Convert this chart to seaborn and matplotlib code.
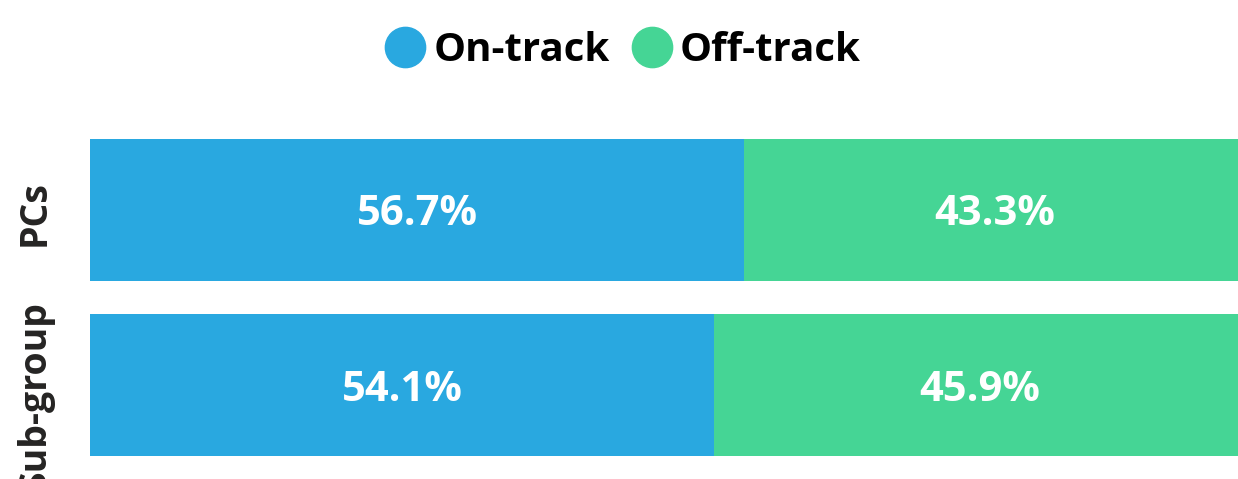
import matplotlib
matplotlib.use("Agg")
import matplotlib.pyplot as plt
import matplotlib.transforms as mtransforms
import seaborn as sns
import pandas as pd
from matplotlib.lines import Line2D

categories = ["PCs", "Sub-group"]
on_track = [56.7, 54.1]
off_track = [43.3, 45.9]
series_names = ["On-track", "Off-track"]
colors = ["#29A8E0", "#45D595"]

sns.set_style("white")
plt.rcParams["font.family"] = ["Open Sans", "DejaVu Sans"]

df = pd.DataFrame({"category": categories, "on": on_track, "off": off_track})
df["total"] = df["on"] + df["off"]

fig = plt.figure(figsize=(12.38, 4.79), dpi=100)
ax = fig.add_axes([90 / 1238, 0.0125, 1 - 90 / 1238 + 0.005, 0.7325])

sns.barplot(data=df, y="category", x="total", color=colors[1], orient="h",
            width=0.81, ax=ax, saturation=1, linewidth=0)
sns.barplot(data=df, y="category", x="on", color=colors[0], orient="h",
            width=0.81, ax=ax, saturation=1, linewidth=0)

down = mtransforms.offset_copy(ax.transData, fig=fig, x=0, y=-5, units="dots")
for i, (a, b) in enumerate(zip(on_track, off_track)):
    ax.text(a / 2, i, f"{a:.1f}%", ha="center", va="center", color="white",
            fontsize=30, fontweight="bold", transform=down)
    ax.text(a + b / 2, i, f"{b:.1f}%", ha="center", va="center", color="white",
            fontsize=30, fontweight="bold", transform=down)

ax.set_xlim(0, 100)
ax.set_ylim(1.5, -0.5)
ax.set_xlabel("")
ax.set_ylabel("")
ax.set_xticks([])
ax.set_yticks([])
sns.despine(ax=ax, left=True, bottom=True)

# category labels (rotated), placed left of the bars
label_offsets = [-3, -11]
for i, (cat, off) in enumerate(zip(categories, label_offsets)):
    tr = mtransforms.offset_copy(ax.get_yaxis_transform(), fig=fig,
                                 x=35 - 90, y=off, units="dots")
    ax.text(0, i, cat, rotation=90, ha="center", va="center", fontsize=27,
            fontweight="bold", color="#252423", transform=tr, clip_on=False)

handles = [Line2D([0], [0], marker="o", linestyle="", markersize=29,
                  markerfacecolor=c, markeredgecolor=c) for c in colors]
fig.legend(handles, series_names, loc="center", bbox_to_anchor=(0.5, 0.895),
           ncol=2, frameon=False, handletextpad=0.0, columnspacing=0.35,
           handlelength=1.4, labelcolor="black",
           prop={"size": 29, "weight": "bold"})

fig.savefig("out.png", dpi=100)
